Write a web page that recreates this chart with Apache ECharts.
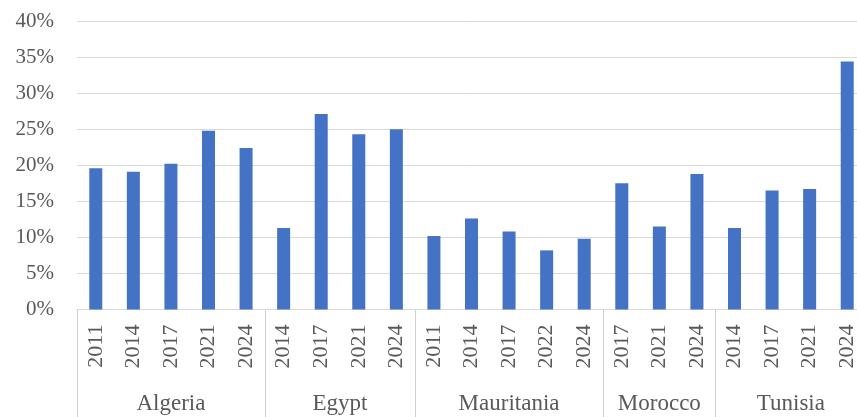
<!DOCTYPE html>
<html>
<head>
<meta charset="utf-8">
<script src="https://cdn.jsdelivr.net/npm/echarts@6/dist/echarts.min.js"></script>
<style>
  html, body { margin: 0; padding: 0; background: #fff; }
  #chart { width: 857px; height: 417px; }
</style>
</head>
<body>
<div id="chart"></div>
<script>
  // country groups and years (one bar per survey year)
  const countries = ['Algeria', 'Egypt', 'Mauritania', 'Morocco', 'Tunisia']
  const years = [
    '2011', '2014', '2017', '2021', '2024',
    '2014', '2017', '2021', '2024',
    '2011', '2014', '2017', '2022', '2024',
    '2017', '2021', '2024',
    '2014', '2017', '2021', '2024'
  ]
  const groupSizes = [5, 4, 5, 3, 4]
  const values = [
    19.6, 19.1, 20.2, 24.8, 22.4,
    11.3, 27.1, 24.3, 25.0,
    10.2, 12.6, 10.8, 8.2, 9.8,
    17.5, 11.5, 18.8,
    11.3, 16.5, 16.7, 34.4
  ]
  const yTicks = ['0%', '5%', '10%', '15%', '20%', '25%', '30%', '35%', '40%']

  // second axis: half-slot points, group names in the middle, ticks at borders
  const halfSlots = years.length * 2 + 1
  const groupNames = new Array(halfSlots).fill('')
  const borders = [0]
  let start = 0
  groupSizes.forEach((n, i) => {
    groupNames[start + n] = countries[i]
    start += n * 2
    borders.push(start)
  })

  const txt = '#595959'
  const font = 'Liberation Serif'
  const chart = echarts.init(document.getElementById('chart'))
  chart.setOption({
    animation: false,
    grid: { left: 77, width: 789, top: 21, bottom: 107.5, outerBoundsMode: 'none', containLabel: false },
    xAxis: [
      {
        type: 'category',
        data: years,
        position: 'bottom',
        axisLine: { lineStyle: { color: '#d9d9d9' } },
        axisTick: { show: false },
        axisLabel: {
          interval: 0, rotate: 90, margin: 15,
          color: txt, fontFamily: font, fontSize: 22
        }
      },
      {
        type: 'category',
        data: groupNames,
        position: 'bottom',
        boundaryGap: false,
        axisLine: { show: false },
        axisTick: {
          show: true, length: 112,
          interval: (i) => borders.includes(i),
          lineStyle: { color: '#d0d0d0' }
        },
        axisLabel: {
          interval: 0, margin: 83,
          color: txt, fontFamily: font, fontSize: 23
        }
      }
    ],
    yAxis: {
      type: 'value',
      min: 0, max: 40, interval: 5,
      axisLine: { show: false },
      axisTick: { show: false },
      splitLine: { lineStyle: { color: '#d9d9d9' } },
      axisLabel: {
        margin: 23, color: txt, fontFamily: font, fontSize: 21,
        formatter: (v) => yTicks[Math.round(v / 5)]
      }
    },
    series: [{
      type: 'bar',
      data: values,
      barWidth: 13,
      itemStyle: { color: '#4472C4' }
    }]
  })
</script>
</body>
</html>
